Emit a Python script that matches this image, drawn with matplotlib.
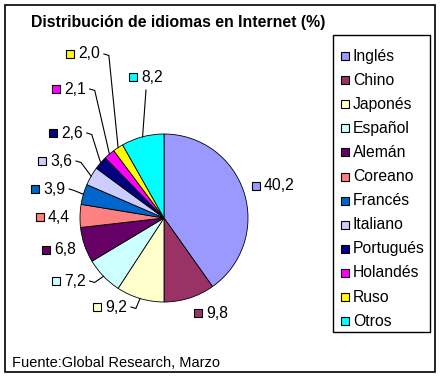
import matplotlib
matplotlib.use("Agg")
import matplotlib.pyplot as plt
from matplotlib.patches import Rectangle
import numpy as np

plt.rcParams['font.family'] = ['Liberation Sans', 'DejaVu Sans']

# ---- data ----
categories = ["Inglés", "Chino", "Japonés", "Español", "Alemán", "Coreano",
              "Francés", "Italiano", "Portugués", "Holandés", "Ruso", "Otros"]
values = [40.2, 9.8, 9.2, 7.2, 6.8, 4.4, 3.9, 3.6, 2.6, 2.1, 2.0, 8.2]
value_labels = ["40,2", "9,8", "9,2", "7,2", "6,8", "4,4", "3,9", "3,6", "2,6", "2,1", "2,0", "8,2"]
colors = ["#9999FF", "#993366", "#FFFFCC", "#CCFFFF", "#660066", "#FF8080",
          "#0066CC", "#CCCCFF", "#000080", "#FF00FF", "#FFFF00", "#00FFFF"]
title = "Distribución de idiomas en Internet (%)"
source = "Fuente:Global Research, Marzo"

# ---- layout (pixels) ----
W, H = 441, 378
center = (164, 218)
radius = 84
# label square left x, label centre y
label_pos = [(252, 186), (194, 313), (93, 307), (52, 281), (42, 250), (36, 217),
             (31, 189), (38, 161), (49, 133), (52, 89), (66, 54), (129, 77)]
leader = [False, False, True, True, False, False, True, True, True, True, True, True]
fs = 11.3

fig = plt.figure(figsize=(W / 100, H / 100), dpi=100)
ax = fig.add_axes([0, 0, 1, 1])
ax.set_xlim(0, W)
ax.set_ylim(H, 0)
ax.axis('off')

# outer border
ax.add_patch(Rectangle((5, 5), 430, 367, fill=False, edgecolor='black', linewidth=1.2))

# title
ax.text(178, 22, title, fontsize=11.4, fontweight='bold', ha='center', va='center')

# pie (y inverted: counterclock in data = clockwise on screen)
wedges, _ = ax.pie(values, colors=colors, startangle=-90, counterclock=True,
                   center=center, radius=radius,
                   wedgeprops=dict(edgecolor='black', linewidth=0.6))
ax.set_xlim(0, W)
ax.set_ylim(H, 0)
ax.set_aspect('auto')

total = sum(values)
cum = np.cumsum([0] + values[:-1])
tw = fig.canvas.get_renderer()
for i, (v, lab) in enumerate(zip(values, value_labels)):
    sx, sy = label_pos[i]
    ax.add_patch(Rectangle((sx, sy - 4), 8, 8, facecolor=colors[i],
                           edgecolor='black', linewidth=0.8))
    t = ax.text(sx + 12, sy, lab, fontsize=fs, ha='left', va='center')
    if leader[i]:
        mid = (cum[i] + v / 2) / total
        ang = np.deg2rad(-90 + mid * 360)
        ex = center[0] + radius * np.cos(ang)
        ey = center[1] + radius * np.sin(ang)
        bb = t.get_window_extent(renderer=tw)
        x_end = sx + 12 + bb.width
        if lab == "8,2":
            xs = [sx + 17, ex]
            ys = [sy + 13, ey]
        else:
            xs = [x_end + 4, x_end + 9, ex]
            ys = [sy, sy + 1.5, ey]
        ax.plot(xs, ys, color='black', linewidth=0.8)

# legend
ax.add_patch(Rectangle((333, 35), 97, 297, fill=False, edgecolor='black', linewidth=1.0))
for i, cat in enumerate(categories):
    y = 56 + i * 24.1
    ax.add_patch(Rectangle((341, y - 4), 8, 8, facecolor=colors[i],
                           edgecolor='black', linewidth=0.8))
    ax.text(353, y, cat, fontsize=fs, ha='left', va='center')

# source
ax.text(12, 363, source, fontsize=fs - 0.8, ha='left', va='center')

fig.savefig("out.png", dpi=100)
